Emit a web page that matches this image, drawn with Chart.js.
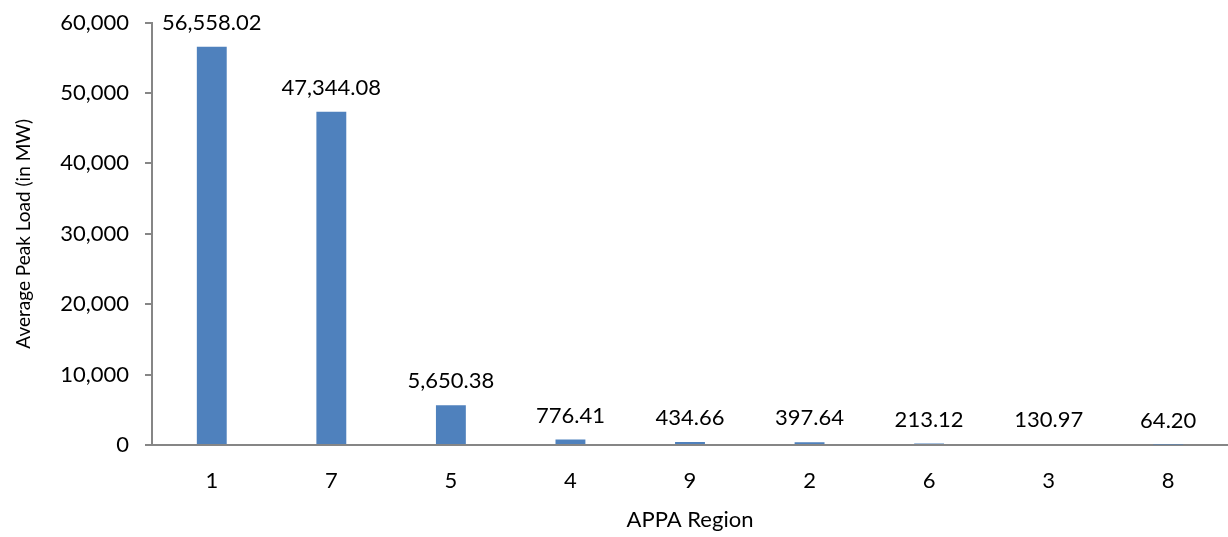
<!DOCTYPE html>
<html>
<head>
<meta charset="utf-8">
<script src="https://cdn.jsdelivr.net/npm/chart.js@4"></script>
<style>
  html, body { margin: 0; padding: 0; background: #fff; }
  #wrap { width: 1228px; height: 537px; }
</style>
</head>
<body>
<div id="wrap"><canvas id="chart"></canvas></div>
<script>
const regions = ['1', '7', '5', '4', '9', '2', '6', '3', '8'];
const peakLoad = [56558.02, 47344.08, 5650.38, 776.41, 434.66, 397.64, 213.12, 130.97, 64.20];
const yTicks = [0, 10000, 20000, 30000, 40000, 50000, 60000];

const FONT = "Lato, 'Open Sans', sans-serif";

// draws the value above each bar
const valueLabels = {
    id: 'valueLabels',
    afterDatasetsDraw(chart) {
        const ctx = chart.ctx;
        const meta = chart.getDatasetMeta(0);
        ctx.save();
        ctx.font = '22px ' + FONT;
        ctx.fillStyle = '#000';
        ctx.textAlign = 'center';
        ctx.textBaseline = 'bottom';
        meta.data.forEach(function(bar, i) {
            const v = peakLoad[i];
            const txt = v.toLocaleString('en-US', { minimumFractionDigits: 2, maximumFractionDigits: 2 });
            ctx.fillText(txt, bar.x, bar.y - 13);
        });
        ctx.restore();
    }
};

new Chart(document.getElementById('chart'), {
    type: 'bar',
    data: {
        labels: regions,
        datasets: [{
            data: peakLoad,
            backgroundColor: '#4F81BD',
            barPercentage: 0.25,
            categoryPercentage: 1
        }]
    },
    options: {
        responsive: true,
        maintainAspectRatio: false,
        animation: false,
        layout: { padding: { top: 19, right: 0, left: 12, bottom: 0 } },
        plugins: {
            legend: { display: false },
            tooltip: { enabled: false }
        },
        scales: {
            x: {
                grid: { display: true, drawOnChartArea: false, drawTicks: false },
                border: { color: '#868686', width: 2 },
                ticks: { color: '#000', padding: 23, font: { size: 22, family: FONT } },
                title: {
                    display: true,
                    text: 'APPA Region',
                    color: '#000',
                    font: { size: 22, family: FONT },
                    padding: { top: 6 }
                },
                afterFit: function(scale) { scale.height = 92; }
            },
            y: {
                min: 0,
                max: 60000,
                afterBuildTicks: function(scale) {
                    scale.ticks = yTicks.map(function(v) { return { value: v }; });
                },
                grid: { drawOnChartArea: false, drawTicks: true, tickLength: 7, color: '#868686', lineWidth: 2 },
                border: { color: '#868686', width: 2 },
                ticks: {
                    color: '#000',
                    padding: 16,
                    font: { size: 22, family: FONT, lineHeight: 0.6 },
                    callback: function(value) { return value.toLocaleString('en-US'); }
                },
                title: {
                    display: true,
                    text: 'Average Peak Load (in MW)',
                    color: '#000',
                    font: { size: 19, family: FONT },
                    padding: { top: 0, bottom: 0 }
                },
                afterFit: function(scale) { scale.width = 140; }
            }
        }
    },
    plugins: [valueLabels]
});
</script>
</body>
</html>
